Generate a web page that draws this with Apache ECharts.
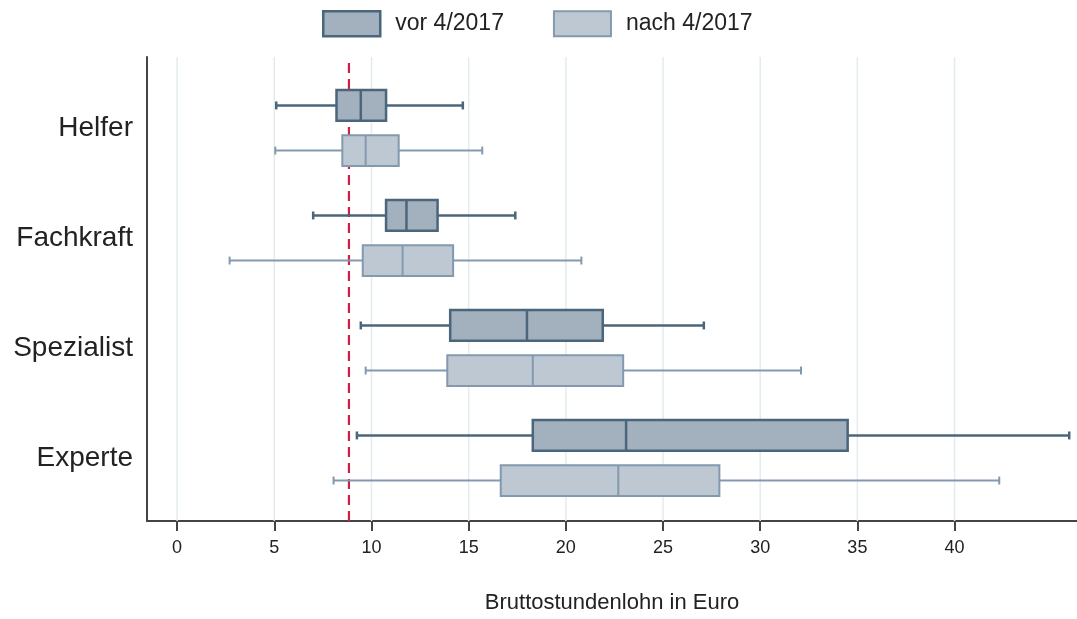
<!DOCTYPE html>
<html lang="de">
<head>
<meta charset="UTF-8">
<title>Bruttostundenlohn</title>
<script src="https://cdn.jsdelivr.net/npm/echarts@6/dist/echarts.min.js"></script>
<style>
  html, body { margin: 0; padding: 0; background: #fff; }
  #main { width: 1077px; height: 619px; }
</style>
</head>
<body>
<div id="main"></div>
<script>
// Kategorien (oben nach unten)
var categories = ['Helfer', 'Fachkraft', 'Spezialist', 'Experte'];
// [kategorie, min, q1, median, q3, max]
var vorData = [
  [0, 5.1, 8.2, 9.45, 10.75, 14.7],
  [1, 7.0, 10.75, 11.8, 13.4, 17.4],
  [2, 9.45, 14.05, 18.0, 21.9, 27.1],
  [3, 9.25, 18.3, 23.1, 34.5, 45.9]
];
var nachData = [
  [0, 5.05, 8.5, 9.7, 11.4, 15.7],
  [1, 2.7, 9.55, 11.6, 14.2, 20.8],
  [2, 9.7, 13.9, 18.3, 22.95, 32.1],
  [3, 8.05, 16.65, 22.7, 27.9, 42.3]
];
var xTicks = [0, 5, 10, 15, 20, 25, 30, 35, 40];
var mindestlohn = 8.84;

var FONT = '"Liberation Sans", Arial, sans-serif';
var X_MIN = -1.55, X_MAX = 46.3;

function boxRenderer(shift, fill, stroke, lw) {
  return function (params, api) {
    var cat = api.value(0);
    var band = api.size([0, 1])[1];
    var yc = api.coord([0, cat])[1] + shift * band;
    var h = band * 0.14;
    var cap = band * 0.036;
    var xs = [1, 2, 3, 4, 5].map(function (d) {
      return api.coord([api.value(d), cat])[0];
    });
    var ls = { stroke: stroke, lineWidth: lw };
    return {
      type: 'group',
      children: [
        { type: 'line', shape: { x1: xs[0], y1: yc, x2: xs[1], y2: yc }, style: ls },
        { type: 'line', shape: { x1: xs[3], y1: yc, x2: xs[4], y2: yc }, style: ls },
        { type: 'line', shape: { x1: xs[0], y1: yc - cap, x2: xs[0], y2: yc + cap }, style: ls },
        { type: 'line', shape: { x1: xs[4], y1: yc - cap, x2: xs[4], y2: yc + cap }, style: ls },
        { type: 'rect', shape: { x: xs[1], y: yc - h, width: xs[3] - xs[1], height: 2 * h },
          style: { fill: fill, stroke: stroke, lineWidth: lw } },
        { type: 'line', shape: { x1: xs[2], y1: yc - h, x2: xs[2], y2: yc + h }, style: ls }
      ]
    };
  };
}

function vLineRenderer(color, width, dash) {
  return function (params, api) {
    var v = api.value(0);
    var p1 = api.coord([v, 0]);
    var p2 = api.coord([v, 1]);
    return {
      type: 'line',
      shape: { x1: p1[0], y1: p1[1], x2: p2[0], y2: p2[1] },
      style: { stroke: color, lineWidth: width, lineDash: dash || null }
    };
  };
}

var chart = echarts.init(document.getElementById('main'), null, { renderer: 'canvas' });

var option = {
  backgroundColor: '#fff',
  animation: false,
  textStyle: { fontFamily: FONT },
  legend: {
    left: 317,
    top: 5,
    itemWidth: 57,
    itemHeight: 25,
    itemGap: 49,
    textStyle: { fontSize: 23, color: '#222', fontFamily: FONT, padding: [0, 0, 0, 10] },
    data: [
      { name: 'vor 4/2017', icon: 'rect',
        itemStyle: { color: '#a2b1bd', borderColor: '#4b667b', borderWidth: 2.5 } },
      { name: 'nach 4/2017', icon: 'rect',
        itemStyle: { color: '#bdc8d3', borderColor: '#8399ad', borderWidth: 2 } }
    ]
  },
  grid: [
    { left: 147, right: 0, top: 57, bottom: 90 },
    { left: 147, right: 0, top: 73, bottom: 106 }
  ],
  xAxis: [
    {
      type: 'value', gridIndex: 0, min: X_MIN, max: X_MAX,
      name: 'Bruttostundenlohn in Euro',
      nameLocation: 'middle',
      nameGap: 71,
      nameTextStyle: { fontSize: 22, color: '#222', fontFamily: FONT },
      axisLine: { show: true, onZero: false, lineStyle: { color: '#444', width: 2 } },
      axisTick: { show: true, length: 10, customValues: xTicks, lineStyle: { color: '#444', width: 2 } },
      axisLabel: { customValues: xTicks, fontSize: 18, color: '#222', margin: 18, fontFamily: FONT },
      splitLine: { show: false }
    },
    {
      type: 'value', gridIndex: 1, min: X_MIN, max: X_MAX, show: false,
      splitLine: { show: false }
    }
  ],
  yAxis: [
    {
      type: 'value', gridIndex: 0, min: 0, max: 1,
      axisLine: { show: true, onZero: false, lineStyle: { color: '#444', width: 2 } },
      axisTick: { show: false },
      axisLabel: { show: false },
      splitLine: { show: false }
    },
    {
      type: 'category', gridIndex: 1, data: categories, inverse: true,
      axisLine: { show: false },
      axisTick: { show: false },
      axisLabel: { fontSize: 28, color: '#222', margin: 14, fontFamily: FONT },
      splitLine: { show: false }
    }
  ],
  series: [
    {
      type: 'custom', name: 'grid', xAxisIndex: 0, yAxisIndex: 0, z: 1,
      silent: true,
      data: xTicks.map(function (v) { return [v]; }),
      encode: { x: 0 },
      renderItem: vLineRenderer('#e2ecee', 1.5)
    },
    {
      type: 'custom', name: 'Mindestlohn', xAxisIndex: 0, yAxisIndex: 0, z: 2,
      silent: true,
      data: [[mindestlohn]],
      encode: { x: 0 },
      renderItem: vLineRenderer('#cf1f45', 2.2, [10, 6])
    },
    {
      type: 'custom', name: 'vor 4/2017', xAxisIndex: 1, yAxisIndex: 1, z: 3,
      itemStyle: { color: '#a2b1bd', borderColor: '#4b667b' },
      data: vorData,
      encode: { x: [1, 2, 3, 4, 5], y: 0 },
      renderItem: boxRenderer(-0.205, '#a2b1bd', '#4b667b', 2.5)
    },
    {
      type: 'custom', name: 'nach 4/2017', xAxisIndex: 1, yAxisIndex: 1, z: 3,
      itemStyle: { color: '#bdc8d3', borderColor: '#8399ad' },
      data: nachData,
      encode: { x: [1, 2, 3, 4, 5], y: 0 },
      renderItem: boxRenderer(0.205, '#bdc8d3', '#8399ad', 2)
    }
  ]
};

chart.setOption(option);
</script>
</body>
</html>
